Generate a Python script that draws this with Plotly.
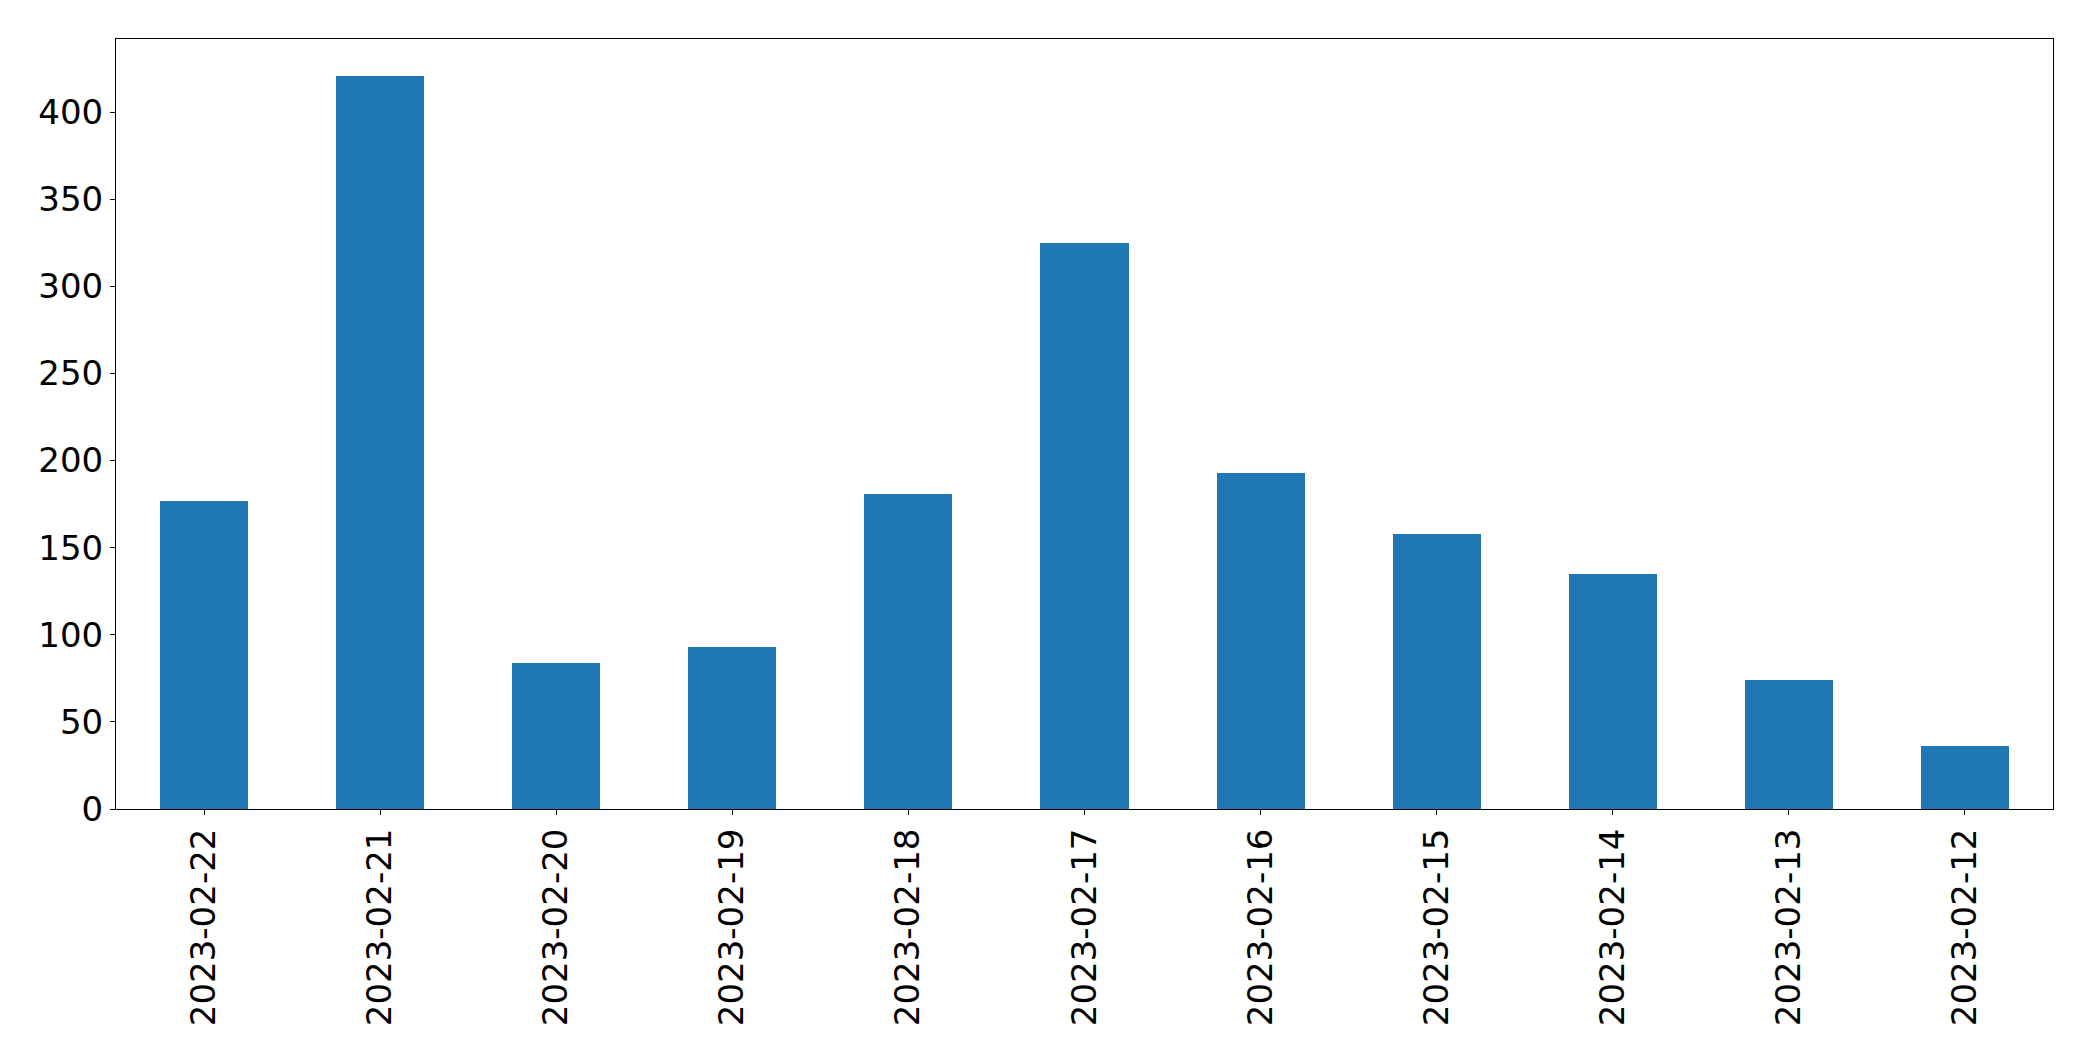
import plotly.graph_objects as go

dates = ["2023-02-22", "2023-02-21", "2023-02-20", "2023-02-19", "2023-02-18",
         "2023-02-17", "2023-02-16", "2023-02-15", "2023-02-14", "2023-02-13",
         "2023-02-12"]
counts = [177, 421, 84, 93, 181, 325, 193, 158, 135, 74, 36]
y_ticks = [0, 50, 100, 150, 200, 250, 300, 350, 400]

fig = go.Figure(go.Bar(
    x=list(range(len(dates))), y=counts, width=0.5,
    marker=dict(color="#1f77b4", line=dict(width=0)),
))

fig.update_layout(
    width=2077, height=1045,
    margin=dict(l=108, r=32, t=31, b=244),
    paper_bgcolor="white", plot_bgcolor="white",
    font=dict(family="DejaVu Sans", size=34, color="black"),
    showlegend=False,
    bargap=0,
)
fig.update_xaxes(
    range=[-0.5, len(dates) - 0.5],
    tickmode="array", tickvals=list(range(len(dates))), ticktext=dates,
    tickangle=-90, ticks="outside", ticklen=5, tickwidth=1, tickcolor="black",
    showline=True, linecolor="black", linewidth=1, mirror=True,
    showgrid=False, zeroline=False,
)
fig.update_yaxes(
    range=[0, 442],
    tickmode="array", tickvals=y_ticks,
    ticks="outside", ticklen=5, tickwidth=1, tickcolor="black",
    showline=True, linecolor="black", linewidth=1, mirror=True,
    showgrid=False, zeroline=False,
)

fig.write_html("out.html")
